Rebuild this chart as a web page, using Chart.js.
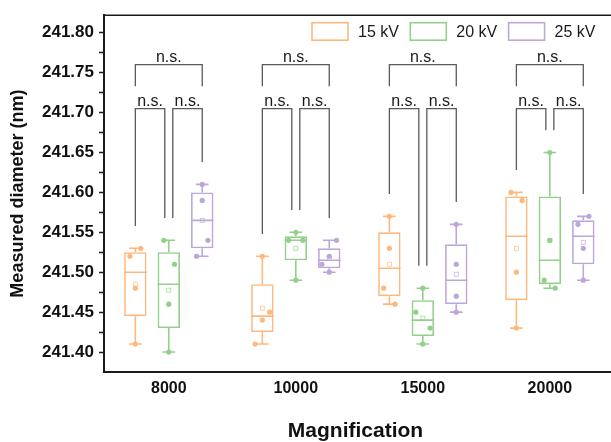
<!DOCTYPE html>
<html>
<head>
<meta charset="utf-8">
<title>Measured diameter vs magnification</title>
<script src="https://cdn.jsdelivr.net/npm/chart.js@4.4.1/dist/chart.umd.min.js"></script>
<style>
	html, body { margin: 0; padding: 0; background: #fff; overflow: hidden; }
	#wrap { width: 611px; height: 442px; }
</style>
</head>
<body>
<div id="wrap"><canvas id="mycanvas" width="611" height="442"></canvas></div>
<script>
// groups on the x axis
var magnification = ['8000', '10000', '15000', '20000'];
var voltages = ['15 kV', '20 kV', '25 kV'];

// four measured diameters (nm) per magnification
var kv15 = [
	[241.53, 241.52, 241.48, 241.41],
	[241.52, 241.45, 241.44, 241.41],
	[241.57, 241.53, 241.48, 241.46],
	[241.60, 241.59, 241.50, 241.43]
];
var kv20 = [
	[241.54, 241.51, 241.46, 241.40],
	[241.55, 241.54, 241.54, 241.49],
	[241.48, 241.45, 241.43, 241.41],
	[241.65, 241.54, 241.49, 241.48]
];
var kv25 = [
	[241.61, 241.59, 241.54, 241.52],
	[241.54, 241.52, 241.51, 241.50],
	[241.56, 241.51, 241.47, 241.45],
	[241.57, 241.56, 241.53, 241.49]
];

var yTicks = [241.40, 241.45, 241.50, 241.55, 241.60, 241.65, 241.70, 241.75, 241.80];

// pairwise tests per group: [15 vs 25, 15 vs 20, 20 vs 25]
var significance = [
	['n.s.', 'n.s.', 'n.s.'],
	['n.s.', 'n.s.', 'n.s.'],
	['n.s.', 'n.s.', 'n.s.'],
	['n.s.', 'n.s.', 'n.s.']
];

// sideways spread of the dots, in x axis units
var jitter15 = [[0.043, -0.042, 0, 0], [0, 0.057, 0, -0.057], [0, 0, -0.045, 0.045], [-0.042, 0.045, 0, 0]];
var jitter20 = [[-0.039, 0.045, 0, 0], [0, -0.057, 0.055, 0], [0, -0.055, 0.057, 0], [0, 0, -0.045, 0.042]];
var jitter25 = [[0, 0, 0.045, -0.045], [0.057, 0, -0.057, 0], [0, 0, 0, 0], [0.045, -0.042, 0, 0]];

var series = [kv15, kv20, kv25];
var jitters = [jitter15, jitter20, jitter25];
var colors = ['#FDB97D', '#93D18A', '#BCA7D8'];
var groupWidth = 0.79;
var fontFamily = '"Liberation Sans", Arial, sans-serif';

// min / hinges / median / max / mean of a sample
function boxStats(vals) {
	var s = vals.slice().sort(function(a, b) { return a - b; });
	var n = s.length;
	var med = function(a) {
		var m = Math.floor(a.length / 2);
		return a.length % 2 ? a[m] : (a[m - 1] + a[m]) / 2;
	};
	var half = Math.floor(n / 2);
	var sum = 0;
	for (var i = 0; i < n; i++) sum += s[i];
	return {
		min: s[0], max: s[n - 1],
		q1: med(s.slice(0, half)), q3: med(s.slice(n - half)),
		median: med(s), mean: sum / n
	};
}

var stats = series.map(function(ser) { return ser.map(boxStats); });

var datasets = [];
for (var k = 0; k < 3; k++) {
	datasets.push({
		type: 'bar',
		label: voltages[k],
		data: stats[k].map(function(st, i) { return { x: i, y: [st.q1, st.q3] }; }),
		backgroundColor: 'rgba(255,255,255,0)',
		borderColor: colors[k],
		borderWidth: 1.6,
		borderSkipped: false,
		categoryPercentage: groupWidth,
		barPercentage: 0.67,
		order: 2
	});
}
for (var k = 0; k < 3; k++) {
	var pts = [];
	for (var i = 0; i < magnification.length; i++) {
		for (var j = 0; j < series[k][i].length; j++) {
			pts.push({ x: i + (k - 1) * groupWidth / 3 + jitters[k][i][j], y: series[k][i][j] });
		}
	}
	datasets.push({
		type: 'scatter',
		label: voltages[k] + ' points',
		data: pts,
		pointRadius: 2.6,
		pointBackgroundColor: colors[k],
		pointBorderWidth: 0,
		order: 1
	});
}

// whiskers, caps, median and mean marker under each box
var boxPlot = {
	id: 'boxPlot',
	beforeDatasetsDraw: function(chart) {
		var ctx = chart.ctx, y = chart.scales.y;
		ctx.save();
		for (var k = 0; k < 3; k++) {
			var meta = chart.getDatasetMeta(k);
			meta.data.forEach(function(bar, i) {
				var st = stats[k][i];
				var cx = bar.x, hw = bar.width / 2, cap = 6.3;
				var yMax = y.getPixelForValue(st.max), yMin = y.getPixelForValue(st.min);
				var yMed = y.getPixelForValue(st.median);
				ctx.strokeStyle = colors[k];
				ctx.lineWidth = 1.6;
				ctx.beginPath();
				ctx.moveTo(cx, y.getPixelForValue(st.q3));
				ctx.lineTo(cx, yMax);
				ctx.moveTo(cx, y.getPixelForValue(st.q1));
				ctx.lineTo(cx, yMin);
				ctx.moveTo(cx - cap, yMax);
				ctx.lineTo(cx + cap, yMax);
				ctx.moveTo(cx - cap, yMin);
				ctx.lineTo(cx + cap, yMin);
				ctx.moveTo(cx - hw, yMed);
				ctx.lineTo(cx + hw, yMed);
				ctx.stroke();
				var yMean = y.getPixelForValue(st.mean);
				ctx.lineWidth = 0.8;
				ctx.globalAlpha = 0.8;
				ctx.strokeRect(cx - 2, yMean - 2, 4, 4);
				ctx.globalAlpha = 1;
			});
		}
		ctx.restore();
	}
};

// n.s. brackets above each group
var bracketTop = 241.76, bracketTopLeg = 241.733, bracketLow = 241.705, legGap = 0.028;
var brackets = {
	id: 'brackets',
	afterDatasetsDraw: function(chart) {
		var ctx = chart.ctx, y = chart.scales.y;
		ctx.save();
		ctx.strokeStyle = '#5a5a5a';
		ctx.lineWidth = 1.3;
		ctx.fillStyle = '#1a1a1a';
		ctx.font = '16px ' + fontFamily;
		ctx.textAlign = 'center';
		ctx.textBaseline = 'alphabetic';
		function bracket(x1, x2, level, leg1, leg2, text) {
			var yl = y.getPixelForValue(level);
			ctx.beginPath();
			ctx.moveTo(x1, y.getPixelForValue(leg1));
			ctx.lineTo(x1, yl);
			ctx.lineTo(x2, yl);
			ctx.lineTo(x2, y.getPixelForValue(leg2));
			ctx.stroke();
			ctx.fillText(text, (x1 + x2) / 2, yl - 3);
		}
		for (var i = 0; i < magnification.length; i++) {
			var xs = [0, 1, 2].map(function(k) { return chart.getDatasetMeta(k).data[i].x; });
			var tops = [0, 1, 2].map(function(k) { return stats[k][i].max + legGap; });
			bracket(xs[0], xs[2], bracketTop, bracketTopLeg, bracketTopLeg, significance[i][0]);
			bracket(xs[0], xs[1] - 4, bracketLow, tops[0], tops[1], significance[i][1]);
			bracket(xs[1] + 4, xs[2], bracketLow, tops[1], tops[2], significance[i][2]);
		}
		ctx.restore();
	}
};

// frame lines running out to the canvas edge, and the legend inside the plot
var frameLegend = {
	id: 'frameLegend',
	afterDraw: function(chart) {
		var ctx = chart.ctx, area = chart.chartArea;
		ctx.save();
		ctx.strokeStyle = '#1a1a1a';
		ctx.lineWidth = 1.6;
		ctx.beginPath();
		ctx.moveTo(area.left, area.top);
		ctx.lineTo(chart.width, area.top);
		ctx.stroke();
		ctx.lineWidth = 2;
		ctx.beginPath();
		ctx.moveTo(area.right - 1, area.bottom);
		ctx.lineTo(chart.width, area.bottom);
		ctx.stroke();

		ctx.font = '16px ' + fontFamily;
		ctx.textAlign = 'left';
		ctx.textBaseline = 'middle';
		for (var k = 0; k < 3; k++) {
			var bx = area.left + 208 + k * 98.3, by = area.top + 7.5;
			ctx.strokeStyle = chart.data.datasets[k].borderColor;
			ctx.lineWidth = 1.6;
			ctx.strokeRect(bx, by, 36, 17.5);
			ctx.fillStyle = '#1a1a1a';
			ctx.fillText(chart.data.datasets[k].label, bx + 46, by + 9.5);
		}
		ctx.restore();
	}
};

var ctx = document.getElementById('mycanvas');

var boxChart = new Chart(ctx, {
	type: 'bar',
	data: { datasets: datasets },
	options: {
		responsive: false,
		animation: false,
		layout: { padding: { top: 15, left: 0, right: 0, bottom: 0 } },
		plugins: {
			legend: { display: false },
			tooltip: { enabled: false }
		},
		scales: {
			x: {
				type: 'linear',
				offset: false,
				min: -0.51,
				max: 3.45,
				afterBuildTicks: function(scale) {
					scale.ticks = magnification.map(function(m, i) { return { value: i }; });
				},
				afterFit: function(scale) { scale.height = 70; },
				grid: { offset: false, drawOnChartArea: false, drawTicks: false },
				border: { color: '#1a1a1a', width: 2 },
				ticks: {
					padding: 7,
					color: '#111',
					font: { family: fontFamily, size: 16, weight: 'bold' },
					callback: function(value) { return magnification[value]; }
				},
				title: {
					display: true,
					text: 'Magnification',
					color: '#111',
					font: { family: fontFamily, size: 21, weight: 'bold' },
					padding: { top: 0, bottom: -2 }
				}
			},
			y: {
				min: 241.375,
				max: 241.822,
				afterBuildTicks: function(scale) {
					var t = [];
					for (var i = 0; i < yTicks.length; i++) {
						t.push({ value: yTicks[i] });
						if (i < yTicks.length - 1) t.push({ value: (yTicks[i] + yTicks[i + 1]) / 2, minor: true });
					}
					scale.ticks = t;
				},
				afterFit: function(scale) { scale.width = 104; },
				grid: { drawOnChartArea: false, drawTicks: true, tickLength: 5, color: '#1a1a1a', tickWidth: 1.5 },
				border: { color: '#1a1a1a', width: 2 },
				ticks: {
					autoSkip: false,
					padding: 5,
					color: '#111',
					font: { family: fontFamily, size: 17, weight: 'bold' },
					callback: function(value, index, ticks) {
						return ticks[index].minor ? '' : value.toFixed(2);
					}
				},
				title: {
					display: true,
					text: 'Measured diameter (nm)',
					color: '#111',
					font: { family: fontFamily, size: 18, weight: 'bold' },
					padding: { top: 7, bottom: 0 }
				}
			}
		}
	},
	plugins: [boxPlot, brackets, frameLegend]
});
</script>
</body>
</html>
